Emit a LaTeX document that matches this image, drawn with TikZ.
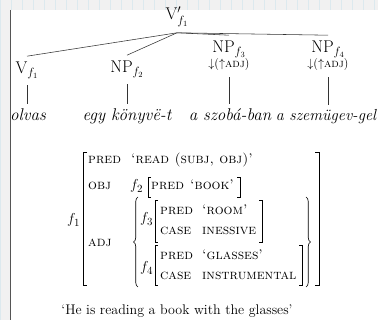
\documentclass[tikz,border=0pt]{standalone}
\usetikzlibrary{decorations.pathreplacing}
\definecolor{bggray}{HTML}{F1F1F1}
\definecolor{gridc}{HTML}{DCE9EE}
\definecolor{edgec}{HTML}{555555}
\begin{document}
\begin{tikzpicture}[x=1pt,y=-1pt,
  tl/.style={inner xsep=0pt, inner ysep=6pt, font=\fontsize{17}{19}\selectfont},
  wd/.style={inner xsep=0pt, inner ysep=5pt, font=\fontsize{17}{19}\selectfont\itshape},
  av/.style={inner sep=0pt, anchor=base west, font=\fontsize{14}{16}\selectfont},
  fv/.style={inner sep=0pt, anchor=base west, font=\fontsize{15.5}{17}\selectfont},
  brk/.style={line width=0.65pt},
  edge/.style={line width=0.55pt, draw=black!80}]
\useasboundingbox (0,0) rectangle (378,320);
\fill[bggray] (0,0) rectangle (378,320);
\draw[gridc, line width=0.4pt] (0,0) grid[step=11] (378,320);
\fill[white] (10,10) rectangle (378,320);
\draw[edgec, line width=1.3pt] (10.5,10) -- (10.5,320);
% tree
\node[tl, anchor=base] (root) at (177,20) {V$'_{f_1}$};
\node[tl, anchor=base] (v) at (27,74) {V$_{f_1}$};
\node[tl, anchor=base] (np2) at (127,73) {NP$_{f_2}$};
\node[tl, anchor=base, align=center] (np3) at (229,68) {NP$_{f_3}$\\[-4pt]{\fontsize{12}{13}\selectfont$\downarrow$($\uparrow$\textsc{adj})}};
\node[tl, anchor=base, align=center] (np4) at (328,68) {NP$_{f_4}$\\[-4pt]{\fontsize{12}{13}\selectfont$\downarrow$($\uparrow$\textsc{adj})}};
\draw[edge] (root.south) -- (v.north);
\draw[edge] (root.south) -- (np2.north);
\draw[edge] (root.south) -- (np3.north);
\draw[edge] (root.south) -- (np4.north);
\node[wd, anchor=base] (w1) at (28,121) {olvas};
\node[wd, anchor=base] (w2) at (127,121) {egy könyvë-t};
\node[wd, anchor=base] (w3) at (230,121) {a szobá-ban};
\node[wd, anchor=base, font=\fontsize{16}{18}\selectfont\itshape] (w4) at (326,121) {a szemügev-gel};
\draw[edge] (v.south) -- (v.south |- w1.north);
\draw[edge] (np2.south) -- (np2.south |- w2.north);
\draw[edge] (np3.south) -- (np3.south |- w3.north);
\draw[edge] (np4.south) -- (np4.south |- w4.north);
% AVM
\node[fv] (f1) at (67,224) {$f_1$};
\node[av] (p1) at (88,164) {\textsc{pred}};
\node[av] (v1) at (131,164) {\textsc{`read (subj, obj)'}};
\node[av] (o) at (88,190) {\textsc{obj}};
\node[fv] (f2) at (130,190) {$f_2$};
\node[av] (p2) at (151,190) {\textsc{pred}};
\node[av] (v2) at (190,190) {\textsc{`book'}};
\node[av] (adj) at (88,247) {\textsc{adj}};
\node[fv] (f3) at (140,223) {$f_3$};
\node[av] (p3) at (160,215) {\textsc{pred}};
\node[av] (v3) at (202,215) {\textsc{`room'}};
\node[av] (c3) at (160,235) {\textsc{case}};
\node[av] (k3) at (202,235) {\textsc{inessive}};
\node[fv] (f4) at (140,272) {$f_4$};
\node[av] (p4) at (160,260) {\textsc{pred}};
\node[av] (v4) at (202,260) {\textsc{`glasses'}};
\node[av] (c4) at (160,280) {\textsc{case}};
\node[av] (k4) at (202,280) {\textsc{instrumental}};
\draw[brk] (87,152) -- (83,152) -- (83,285) -- (87,285);
\draw[brk] (315,152) -- (319,152) -- (319,285) -- (315,285);
\draw[brk] (151,177) -- (148,177) -- (148,197) -- (151,197);
\draw[brk] (237,177) -- (240,177) -- (240,197) -- (237,197);
\draw[brk] (158,200) -- (155,200) -- (155,242) -- (158,242);
\draw[brk] (259,200) -- (262,200) -- (262,242) -- (259,242);
\draw[brk] (158,245) -- (155,245) -- (155,285) -- (158,285);
\draw[brk] (299,245) -- (302,245) -- (302,285) -- (299,285);
\draw[brk, decorate, decoration={brace, amplitude=4.5pt}] (138,287) -- (138,197);
\draw[brk, decorate, decoration={brace, amplitude=4.5pt}] (306,197) -- (306,287);
\node[anchor=base, font=\fontsize{14}{16}\selectfont, inner sep=0pt] (cap) at (177,315) {`He is reading a book with the glasses'};
\end{tikzpicture}
\end{document}
